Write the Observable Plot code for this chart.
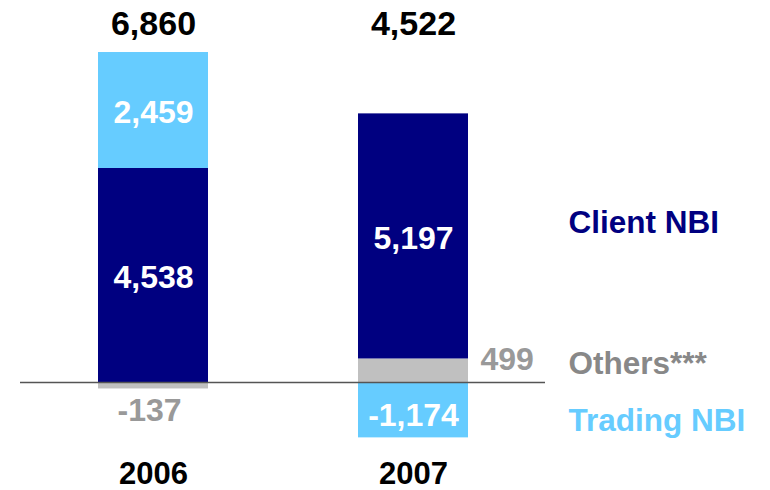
<!DOCTYPE html>
<html>
<head>
<meta charset="utf-8">
<script src="https://cdn.jsdelivr.net/npm/d3@7"></script>
<script src="https://cdn.jsdelivr.net/npm/@observablehq/plot@0.6"></script>
<style>
  html, body { margin: 0; padding: 0; background: #fff; }
  #chart svg { display: block; }
</style>
</head>
<body>
<div id="chart"></div>
<script>
const years = ["2006", "2007"];
const series = ["Others***", "Client NBI", "Trading NBI"];
const others = [-137, 499];
const client = [4538, 5197];
const trading = [2459, -1174];

const colors = {"Others***": "#C0C0C0", "Client NBI": "#000080", "Trading NBI": "#66CCFF"};
const valuesBySeries = {"Others***": others, "Client NBI": client, "Trading NBI": trading};

const table = [];
series.forEach(s => years.forEach((y, i) => table.push({year: y, series: s, value: valuesBySeries[s][i]})));
const totals = years.map((y, i) => ({year: y, total: others[i] + client[i] + trading[i]}));

const fmt = v => v.toLocaleString("en-US");
const font = "Liberation Sans, Arial, sans-serif";

const plot = Plot.plot({
  width: 770,
  height: 490,
  marginTop: 0,
  marginBottom: 0,
  marginLeft: 46,
  marginRight: 250,
  style: {fontFamily: font, background: "#fff"},
  x: {domain: years, paddingInner: 0.578, paddingOuter: 0.2, axis: null},
  y: {domain: [-2290, 8100], axis: null},
  color: {domain: series, range: series.map(s => colors[s])},
  marks: [
    Plot.barY(table, Plot.stackY({x: "year", y: "value", z: "series", fill: "series", order: series})),
    Plot.ruleY([0], {stroke: "#555", strokeWidth: 1.5, insetLeft: -26, insetRight: -25}),
    // inside-bar labels (positive segments)
    Plot.text(table, Plot.stackY({
      x: "year", y: "value", z: "series", order: series,
      text: d => (d.series === "Others***" || d.value < 0) ? null : fmt(d.value),
      fill: "#fff", fontSize: 32, fontWeight: "bold", dy: 2
    })),
    // inside-bar labels (negative segments)
    Plot.text(table, Plot.stackY({
      x: "year", y: "value", z: "series", order: series,
      text: d => (d.series === "Others***" || d.value >= 0) ? null : fmt(d.value),
      fill: "#fff", fontSize: 32, fontWeight: "bold", dy: 6
    })),
    // others: negative below bar
    Plot.text(table.filter(d => d.series === "Others***" && d.value < 0), {
      x: "year", y: "value", text: d => fmt(d.value),
      fill: "#999", fontSize: 32, fontWeight: "bold", dy: 22, dx: -4
    }),
    // others: positive to the right
    Plot.text(table.filter(d => d.series === "Others***" && d.value > 0), {
      x: "year", y: "value", text: d => fmt(d.value),
      fill: "#999", fontSize: 32, fontWeight: "bold", textAnchor: "start", dx: 67, dy: 1
    }),
    // totals
    Plot.text(totals, {x: "year", text: d => fmt(d.total), frameAnchor: "top", lineAnchor: "middle", dy: 24,
      fill: "#000", fontSize: 34, fontWeight: "bold"}),
    // year labels
    Plot.text(years, {x: d => d, text: d => d, frameAnchor: "bottom", lineAnchor: "middle", dy: -16,
      fill: "#000", fontSize: 31, fontWeight: "bold"}),
    // series labels
    Plot.text([series[1]], {text: d => d, frameAnchor: "top-left", lineAnchor: "middle", dx: 568 - 46, dy: 222,
      textAnchor: "start", fill: "#000080", fontSize: 31.5, fontWeight: "bold"}),
    Plot.text([series[0]], {text: d => d, frameAnchor: "top-left", lineAnchor: "middle", dx: 568 - 46, dy: 363,
      textAnchor: "start", fill: "#888", fontSize: 31.5, fontWeight: "bold"}),
    Plot.text([series[2]], {text: d => d, frameAnchor: "top-left", lineAnchor: "middle", dx: 568 - 46, dy: 420,
      textAnchor: "start", fill: "#66CCFF", fontSize: 31.5, fontWeight: "bold"})
  ]
});
document.getElementById("chart").appendChild(plot);
</script>
</body>
</html>
